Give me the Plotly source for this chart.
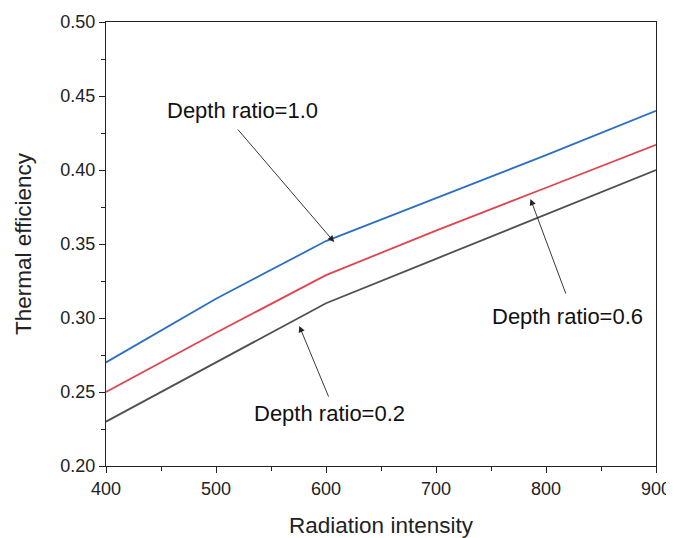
import plotly.graph_objects as go

radiation = [400, 500, 600, 700, 800, 900]
eff_10 = [0.270, 0.313, 0.352, 0.381, 0.410, 0.440]
eff_06 = [0.250, 0.290, 0.329, 0.359, 0.388, 0.417]
eff_02 = [0.230, 0.270, 0.310, 0.340, 0.370, 0.400]

labels = ["Depth ratio=1.0", "Depth ratio=0.6", "Depth ratio=0.2"]
# (text x, text y, arrow tail x, tail y, head x, head y) in data units
label_pos = [
    (524.1, 0.4399, 518.7, 0.4284, 607.4, 0.3514),
    (819.4, 0.3007, 818.5, 0.3155, 785.9, 0.3804),
    (602.9, 0.2358, 602.9, 0.2459, 575.7, 0.2946),
]

fig = go.Figure()
for y, c in [(eff_02, "#505050"), (eff_06, "#e0444f"), (eff_10, "#2b6fc2")]:
    fig.add_trace(go.Scatter(x=radiation, y=y, mode="lines",
                             line=dict(color=c, width=1.8), showlegend=False))

font = "Liberation Sans, Arial, sans-serif"
for lab, (tx, ty, ax, ay, hx, hy) in zip(labels, label_pos):
    fig.add_annotation(x=hx, y=hy, ax=ax, ay=ay, axref="x", ayref="y",
                       xref="x", yref="y", text="", showarrow=True,
                       arrowhead=2, arrowsize=1.4, arrowwidth=0.9, arrowcolor="#222")
    fig.add_annotation(x=tx, y=ty, xref="x", yref="y", text=lab, showarrow=False,
                       font=dict(family=font, size=22, color="#111"))

axis_common = dict(showline=True, linecolor="#222", linewidth=1.2, mirror=True,
                   ticks="outside", ticklen=6, tickwidth=1.2, tickcolor="#222",
                   showgrid=False, zeroline=False,
                   tickfont=dict(family=font, size=18, color="#222"))
fig.update_xaxes(range=[400, 900], dtick=100, automargin="bottom",
                 title=dict(text="Radiation intensity",
                 font=dict(family=font, size=22.5, color="#222"), standoff=19),
                 minor=dict(ticks="outside", ticklen=4, tickwidth=1.2, tickcolor="#222", dtick=50),
                 **axis_common)
fig.update_yaxes(range=[0.20, 0.50], dtick=0.05, tickformat=".2f", automargin="left",
                 title=dict(text="Thermal efficiency",
                 font=dict(family=font, size=22.5, color="#222"), standoff=22),
                 minor=dict(ticks="outside", ticklen=4, tickwidth=1.2, tickcolor="#222", dtick=0.025),
                 **axis_common)
fig.update_layout(width=674, height=538, margin=dict(l=98, r=26, t=14, b=80),
                  plot_bgcolor="white", paper_bgcolor="white")
fig.write_html("out.html")
